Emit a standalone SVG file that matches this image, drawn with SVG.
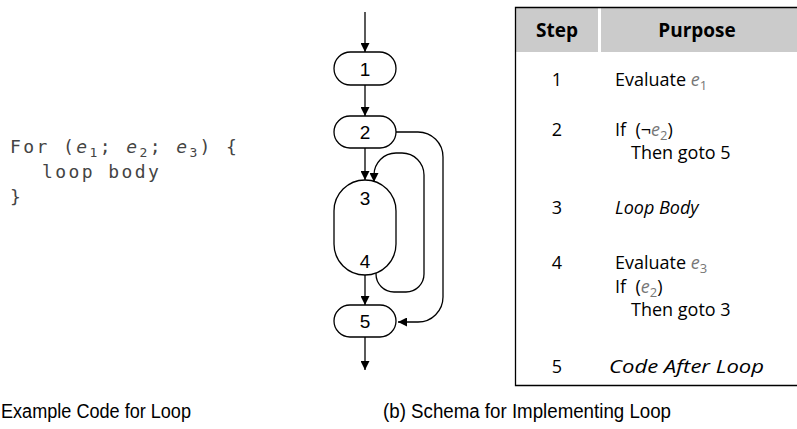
<svg xmlns="http://www.w3.org/2000/svg" width="797" height="429" viewBox="0 0 797 429">
<defs>
<marker id="ah" viewBox="0 0 10 10" refX="10" refY="5" markerWidth="9" markerHeight="9" markerUnits="userSpaceOnUse" orient="auto">
<path d="M0,0 L10,5 L0,10 Z" fill="#000"/>
</marker>
<style>
.node{fill:#fff;stroke:#000;stroke-width:1.3}
.nl{font-family:"Liberation Sans",Arial,sans-serif;font-size:19px;text-anchor:middle;fill:#000}
.edge{fill:none;stroke:#000;stroke-width:1.3;marker-end:url(#ah)}
.code{font-family:"DejaVu Sans Mono",monospace;font-size:18px;fill:#444;letter-spacing:2.4px}
.cap{font-family:"Liberation Sans",Arial,sans-serif;font-size:20px;fill:#000}
.th{font-family:"Open Sans","Noto Sans",sans-serif;font-size:19px;font-weight:bold;fill:#000;text-anchor:middle}
.td{font-family:"Open Sans","Noto Sans",sans-serif;font-size:18px;fill:#000}
.m{font-style:italic;fill:#777}
.it{font-style:italic}
</style>
</defs>

<g id="code">
<text class="code" x="10" y="153">For (<tspan class="it">e</tspan><tspan font-size="13" dy="4">1</tspan><tspan dy="-4">; </tspan><tspan class="it">e</tspan><tspan font-size="13" dy="4">2</tspan><tspan dy="-4">; </tspan><tspan class="it">e</tspan><tspan font-size="13" dy="4">3</tspan><tspan dy="-4">) {</tspan></text>
<text class="code" x="42" y="178">loop body</text>
<text class="code" x="10" y="203">}</text>
</g>

<g id="connectors">
<line class="edge" x1="365" y1="12" x2="365" y2="52"/>
<line class="edge" x1="365" y1="85" x2="365" y2="116"/>
<line class="edge" x1="365" y1="148" x2="365" y2="180"/>
<line class="edge" x1="365" y1="275" x2="365" y2="305"/>
<line class="edge" x1="365" y1="337" x2="365" y2="370"/>
<path class="edge" d="M376,273 V274 A18,18 0 0 0 394,292 H406 A18,18 0 0 0 424,274 V175 A22,22 0 0 0 402,153 H396 A22,22 0 0 0 374,175 V182"/>
<path class="edge" d="M396,132 H418 A25,25 0 0 1 443,157 V297 A25,25 0 0 1 418,322 H398"/>
</g>

<g id="n1"><rect class="node" x="334" y="52" width="62" height="33" rx="16.5"/><text class="nl" x="365" y="75.5">1</text></g>
<g id="n2"><rect class="node" x="334" y="116" width="62" height="32" rx="16"/><text class="nl" x="365" y="139">2</text></g>
<g id="n34"><rect class="node" x="334" y="180" width="62" height="95" rx="31"/><text class="nl" x="365" y="205">3</text><text class="nl" x="365" y="268">4</text></g>
<g id="n5"><rect class="node" x="334" y="305" width="62" height="32" rx="16"/><text class="nl" x="365" y="328">5</text></g>

<g id="table">
<rect x="515" y="8" width="83" height="44" fill="#cbcbcb"/>
<rect x="601" y="8" width="196" height="44" fill="#cbcbcb"/>
<path d="M797,7.5 H515.5 V385.5 H797" fill="none" stroke="#000" stroke-width="1.3"/>
<text class="th" x="557" y="37">Step</text>
<text class="th" x="697" y="37">Purpose</text>
<text class="td" x="557" y="86" text-anchor="middle">1</text>
<text class="td" x="615" y="86">Evaluate <tspan class="m">e</tspan><tspan fill="#777" font-size="13" dy="4">1</tspan></text>
<text class="td" x="557" y="136" text-anchor="middle">2</text>
<text class="td" x="615" y="136">If&#160; (¬<tspan class="m">e</tspan><tspan fill="#777" font-size="13" dy="4">2</tspan><tspan dy="-4">)</tspan></text>
<text class="td" x="631" y="159">Then goto 5</text>
<text class="td" x="557" y="214" text-anchor="middle">3</text>
<text class="td it" x="615" y="214">Loop Body</text>
<text class="td" x="557" y="269" text-anchor="middle">4</text>
<text class="td" x="615" y="269">Evaluate <tspan class="m">e</tspan><tspan fill="#777" font-size="13" dy="4">3</tspan></text>
<text class="td" x="615" y="293">If&#160; (<tspan class="m">e</tspan><tspan fill="#777" font-size="13" dy="4">2</tspan><tspan dy="-4">)</tspan></text>
<text class="td" x="631" y="316">Then goto 3</text>
<text class="td" x="557" y="373" text-anchor="middle">5</text>
<text class="td it" x="609" y="373" textLength="155" lengthAdjust="spacingAndGlyphs">Code After Loop</text>
</g>

<g id="captions">
<text class="cap" x="1" y="418" textLength="190" lengthAdjust="spacingAndGlyphs">Example Code for Loop</text>
<text class="cap" x="383" y="418" textLength="288" lengthAdjust="spacingAndGlyphs">(b) Schema for Implementing Loop</text>
</g>
</svg>
